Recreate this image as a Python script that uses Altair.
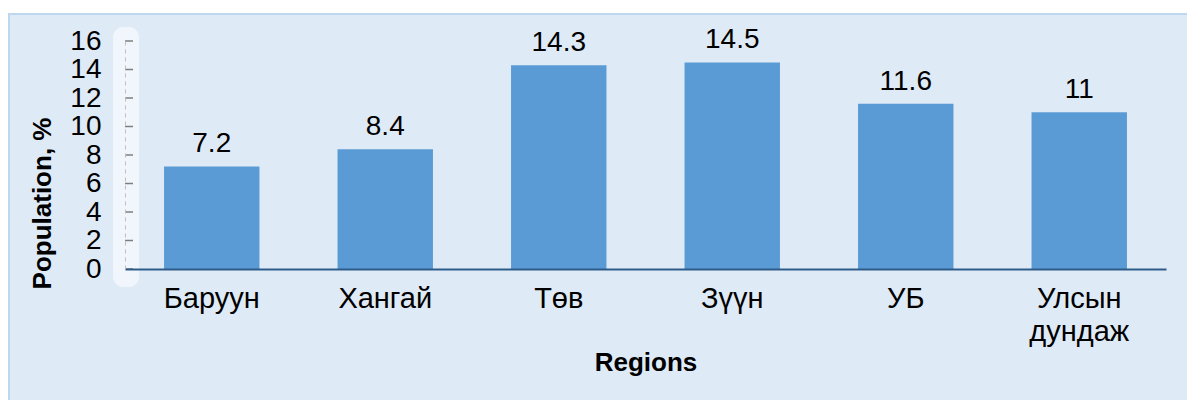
import altair as alt
import pandas as pd

regions = ["Баруун", "Хангай", "Төв", "Зүүн", "УБ", "Улсын дундаж"]
values = [7.2, 8.4, 14.3, 14.5, 11.6, 11]
value_labels = ["7.2", "8.4", "14.3", "14.5", "11.6", "11"]
y_ticks = [0, 2, 4, 6, 8, 10, 12, 14, 16]

df = pd.DataFrame({"region": regions, "value": values, "label": value_labels})
ticks_df = pd.DataFrame({"t": y_ticks})
bg_df = pd.DataFrame({"k": [0]})

FONT = "Liberation Sans"
W, H = 1041, 228
PL, PT = 117, 33
TOTW, TOTH = 1179, 392

x_axis = alt.Axis(labelAngle=0, labelFontSize=29, labelColor="#000000",
                  labelFont=FONT, labelPadding=15, labelLineHeight=33,
                  labelExpr="split(datum.label, ' ')",
                  ticks=False, domainColor="#2E5C8A", domainWidth=2,
                  titleFontSize=26, titleFont=FONT, titleFontWeight="bold",
                  titleColor="#000000", titleY=93, titleBaseline="middle", zindex=1)
y_axis = alt.Axis(values=y_ticks, grid=False, ticks=False, labelOverlap=False,
                  labelFontSize=28, labelColor="#000000", labelFont=FONT,
                  labelPadding=24, domainColor="#BFBFBF", domainDash=[4, 4],
                  titleFontSize=26, titleFont=FONT, titleFontWeight="bold",
                  titleColor="#000000", titleX=-83, titleY=162,
                  titleBaseline="middle", titleAlign="center", zindex=1)
x_scale = alt.Scale(paddingInner=0.45, paddingOuter=0.225)
y_scale = alt.Scale(domain=[0, 16])

x_enc = alt.X("region:N", sort=regions, title="Regions", scale=x_scale, axis=x_axis)
y_enc = alt.Y("value:Q", title="Population, %", scale=y_scale, axis=y_axis)

bg = alt.Chart(bg_df).mark_rect(fill="#DEEAF6", stroke="#BDD7EE", strokeWidth=2).encode(
    x=alt.value(-PL + 1), x2=alt.value(TOTW - PL + 2),
    y=alt.value(-PT + 6), y2=alt.value(TOTH - PT + 2))

glow = alt.Chart(bg_df).mark_rect(fill="#FFFFFF", opacity=0.55, cornerRadius=10).encode(
    x=alt.value(-12), x2=alt.value(14), y=alt.value(-14), y2=alt.value(H + 18))

bars = alt.Chart(df).mark_bar(color="#5B9BD5").encode(x=x_enc, y=y_enc)

text = alt.Chart(df).mark_text(baseline="alphabetic", dy=-14, fontSize=28, font=FONT,
                               color="#000000").encode(x=x_enc, y=y_enc, text="label:N")

tick_marks = alt.Chart(ticks_df).mark_rule(color="#7F7F7F", strokeWidth=1.5).encode(
    y=alt.Y("t:Q", title="Population, %", scale=y_scale, axis=y_axis),
    x=alt.value(0), x2=alt.value(8))

chart = alt.layer(bg, glow, bars, text, tick_marks).properties(
    width=W, height=H,
    autosize=alt.AutoSizeParams(type="none"),
    padding={"left": PL, "top": PT, "right": TOTW - PL - W, "bottom": TOTH - PT - H},
).configure_view(stroke=None).configure(background="#FFFFFF")

chart.save("out.html", embed_options={"renderer": "svg", "actions": False})
